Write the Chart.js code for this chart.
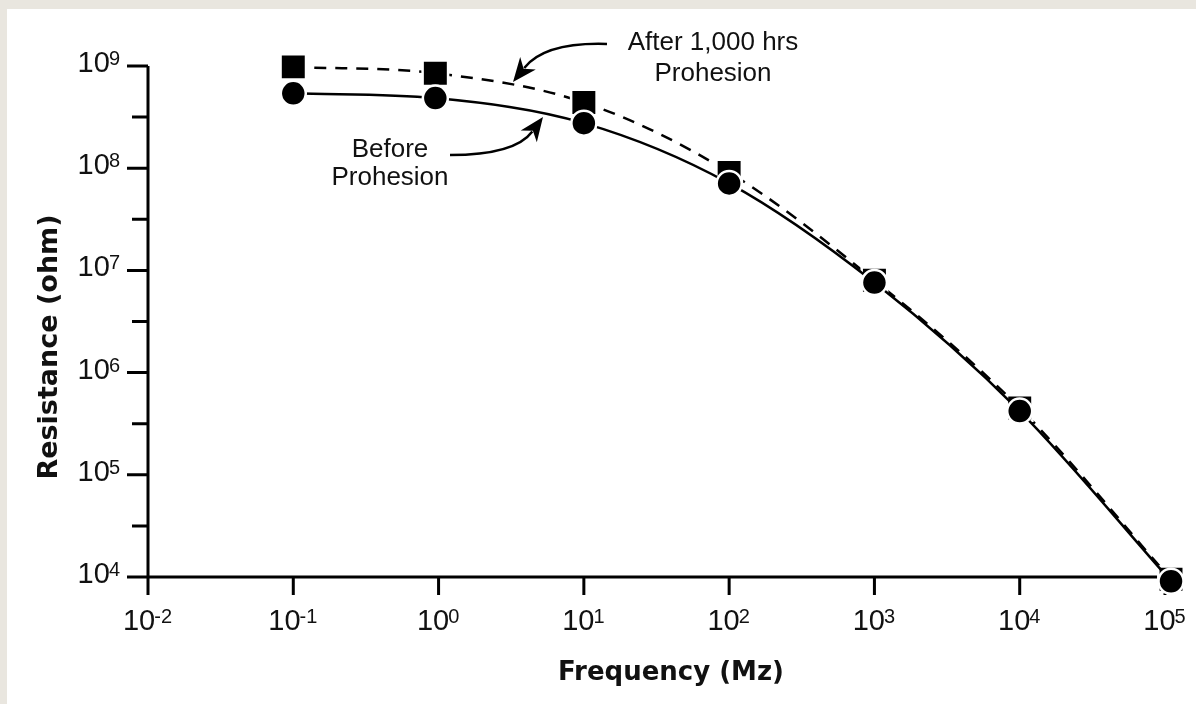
<!DOCTYPE html>
<html>
<head>
<meta charset="utf-8">
<title>Resistance vs Frequency</title>
<script src="https://cdn.jsdelivr.net/npm/chart.js@4.4.1/dist/chart.umd.min.js"></script>
<style>
  html, body { margin: 0; padding: 0; overflow: hidden; background: #fff; }
  canvas { display: block; }
</style>
</head>
<body>
<canvas id="chart" width="1196" height="704"></canvas>
<script>
// data
const frequency = [0.1, 0.95, 10, 100, 1000, 10000, 110000];
const beforeProhesion = [5.4e8, 4.85e8, 2.76e8, 7.1e7, 7.6e6, 4.2e5, 9.1e3];
const afterProhesion = [9.8e8, 8.5e8, 4.4e8, 9.1e7, 8.0e6, 4.5e5, 9.5e3];

// tick labels, as powers of ten
const xExponents = [-2, -1, 0, 1, 2, 3, 4, 5];
const yExponents = [4, 5, 6, 7, 8, 9];
const yMinorExponents = [4.5, 5.5, 6.5, 7.5, 8.5];

const xTitle = 'Frequency (Mz)';
const yTitle = 'Resistance (ohm)';

const tickFont = '"Liberation Sans", Arial, sans-serif';
const noteFont = '26px "Liberation Sans", Arial, sans-serif';

function points(ys) {
    return frequency.map((f, i) => ({ x: f, y: ys[i] }));
}

// "10" with a raised exponent
function drawPow(ctx, px, py, e, align) {
    const base = '10', sup = String(e);
    ctx.font = '29px ' + tickFont;
    const wb = ctx.measureText(base).width;
    ctx.font = '20px ' + tickFont;
    const ws = ctx.measureText(sup).width;
    let left = align === 'right' ? px - wb - ws : px - (wb + ws) / 2;
    ctx.textAlign = 'left';
    ctx.textBaseline = 'alphabetic';
    ctx.font = '29px ' + tickFont;
    ctx.fillText(base, left, py);
    ctx.font = '20px ' + tickFont;
    ctx.fillText(sup, left + wb - 1, py - 7);
}

function drawArrow(ctx, sx, sy, cx, cy, ex, ey) {
    let dx = ex - cx, dy = ey - cy;
    let len = Math.sqrt(dx * dx + dy * dy);
    dx /= len; dy /= len;
    const headLen = 24, headW = 10;
    const bx = ex - dx * headLen, by = ey - dy * headLen;
    ctx.beginPath();
    ctx.moveTo(sx, sy);
    ctx.quadraticCurveTo(cx, cy, bx + dx * 6, by + dy * 6);
    ctx.stroke();
    ctx.beginPath();
    ctx.moveTo(ex, ey);
    ctx.lineTo(bx - dy * headW, by + dx * headW);
    ctx.lineTo(bx + dx * 7, by + dy * 7);
    ctx.lineTo(bx + dy * headW, by - dx * headW);
    ctx.closePath();
    ctx.fill();
}

const frame = {
    id: 'frame',
    beforeDraw(chart) {
        const ctx = chart.ctx;
        ctx.save();
        ctx.fillStyle = '#e9e6df';
        ctx.fillRect(0, 0, chart.width, chart.height);
        ctx.fillStyle = '#ffffff';
        ctx.fillRect(7, 9, chart.width - 7, chart.height - 9);
        ctx.restore();
    },
    beforeDatasetsDraw(chart) {
        const { ctx, scales: { x, y } } = chart;
        const x0 = x.getPixelForValue(Math.pow(10, xExponents[0]));
        const x1 = x.getPixelForValue(Math.pow(10, xExponents[xExponents.length - 1]));
        const y0 = y.getPixelForValue(Math.pow(10, yExponents[0]));
        const y1 = y.getPixelForValue(Math.pow(10, yExponents[yExponents.length - 1]));
        ctx.save();
        ctx.strokeStyle = '#000';
        ctx.fillStyle = '#111';
        ctx.lineWidth = 3;
        ctx.beginPath();
        ctx.moveTo(x0, y1);
        ctx.lineTo(x0, y0);
        ctx.moveTo(x0, y0);
        ctx.lineTo(x1, y0);
        yExponents.forEach(e => {
            const py = y.getPixelForValue(Math.pow(10, e));
            ctx.moveTo(x0 - 21, py);
            ctx.lineTo(x0, py);
        });
        yMinorExponents.forEach(e => {
            const py = y.getPixelForValue(Math.pow(10, e));
            ctx.moveTo(x0 - 16, py);
            ctx.lineTo(x0, py);
        });
        xExponents.forEach(e => {
            const px = x.getPixelForValue(Math.pow(10, e));
            ctx.moveTo(px, y0);
            ctx.lineTo(px, y0 + 18);
        });
        ctx.stroke();

        yExponents.forEach(e => {
            drawPow(ctx, x0 - 27, y.getPixelForValue(Math.pow(10, e)) + 6, e, 'right');
        });
        xExponents.forEach(e => {
            drawPow(ctx, x.getPixelForValue(Math.pow(10, e)), y0 + 53, e, 'center');
        });

        ctx.textAlign = 'center';
        ctx.textBaseline = 'alphabetic';
        ctx.font = 'bold 26px "DejaVu Sans", sans-serif';
        ctx.fillText(xTitle, 671, 680);
        ctx.translate(57, 347);
        ctx.rotate(-Math.PI / 2);
        ctx.font = 'bold 27px "DejaVu Sans", sans-serif';
        ctx.fillText(yTitle, 0, 0);
        ctx.restore();
    },
    afterDatasetsDraw(chart) {
        const ctx = chart.ctx;
        ctx.save();
        ctx.fillStyle = '#111';
        ctx.font = noteFont;
        ctx.textAlign = 'center';
        ctx.textBaseline = 'alphabetic';
        ctx.fillText('After 1,000 hrs', 713, 50);
        ctx.fillText('Prohesion', 713, 81);
        ctx.fillText('Before', 390, 157);
        ctx.fillText('Prohesion', 390, 185);

        ctx.strokeStyle = '#000';
        ctx.fillStyle = '#000';
        ctx.lineWidth = 2.5;
        drawArrow(ctx, 607, 44, 545, 42, 513, 82);
        drawArrow(ctx, 450, 155, 515, 155, 543, 117);
        ctx.restore();
    }
};

new Chart(document.getElementById('chart'), {
    type: 'line',
    data: {
        datasets: [{
            label: 'Before Prohesion',
            data: points(beforeProhesion),
            borderColor: '#000',
            borderWidth: 2.5,
            pointStyle: 'circle',
            pointRadius: 12.5,
            pointBackgroundColor: '#000',
            pointBorderColor: '#fff',
            pointBorderWidth: 2.5,
            cubicInterpolationMode: 'monotone',
            clip: false
        }, {
            label: 'After 1,000 hrs Prohesion',
            data: points(afterProhesion),
            borderColor: '#000',
            borderWidth: 2.5,
            borderDash: [12, 9],
            pointStyle: 'rect',
            pointRadius: 18,
            pointBackgroundColor: '#000',
            pointBorderColor: '#fff',
            pointBorderWidth: 2.5,
            cubicInterpolationMode: 'monotone',
            clip: false
        }]
    },
    options: {
        responsive: false,
        animation: false,
        events: [],
        layout: { padding: { left: 148, top: 66, right: 31, bottom: 127 } },
        scales: {
            x: { type: 'logarithmic', min: 0.01, max: 1e5, display: false },
            y: { type: 'logarithmic', min: 1e4, max: 1e9, display: false }
        },
        plugins: {
            legend: { display: false },
            tooltip: { enabled: false }
        }
    },
    plugins: [frame]
});
</script>
</body>
</html>
